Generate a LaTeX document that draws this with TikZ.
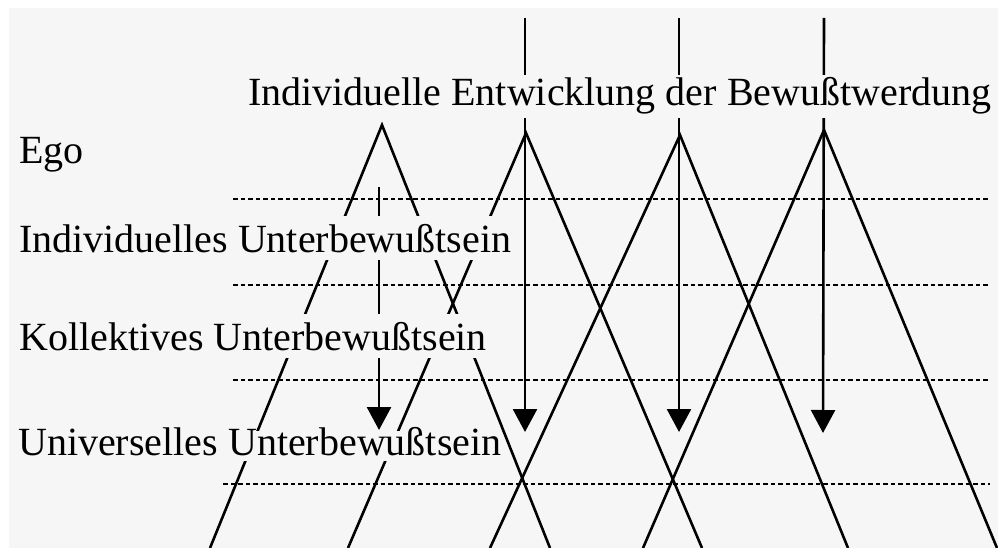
\documentclass[tikz,border=0pt]{standalone}
\usepackage{fontspec}
\setmainfont{Liberation Serif}
\usetikzlibrary{arrows.meta}
\definecolor{paper}{RGB}{246,246,246}

\begin{document}
\begin{tikzpicture}[
    x=1pt, y=-1pt,
    layer/.style={
      anchor=base west,
      fill=paper,
      inner xsep=1pt,
      inner ysep=8pt,
      font=\fontsize{40}{44}\selectfont
    },
    level/.style={
      draw=black,
      line width=2pt,
      dash pattern=on 4.5pt off 3pt
    },
    leg/.style={
      draw=black,
      line width=2.6pt
    },
    descent/.style={
      -{Triangle[length=23pt,width=24pt]},
      draw=black,
      line width=2.6pt
    }
  ]
    \useasboundingbox (0,0) rectangle (998,548);
    \fill[paper] (9,8) rectangle (998,548);

    % apexes and feet of the cones
    \coordinate (a1) at (382,125);
    \coordinate (a2) at (526,133);
    \coordinate (a3) at (680,135);
    \coordinate (a4) at (824,130);
    \coordinate (l1) at (210,548);
    \coordinate (r1) at (550,548);
    \coordinate (l2) at (348,548);
    \coordinate (r2) at (702,548);
    \coordinate (l3) at (490,548);
    \coordinate (r3) at (848,548);
    \coordinate (l4) at (643,548);
    \coordinate (r4) at (997,548);

    % levels
    \draw[level] (233,199) -- (990,199);
    \draw[level] (233,285) -- (990,285);
    \draw[level] (233,380) -- (990,380);
    \draw[level] (223,484) -- (990,484);

    \foreach \i in {1,...,4}
      \draw[leg] (l\i) -- (a\i) -- (r\i);

    % descending arrows
    \coordinate (s1) at (379,187);
    \coordinate (s2) at (525,18);
    \coordinate (s3) at (679,18);
    \coordinate (s4) at (824,18);
    \coordinate (e1) at (379,430);
    \coordinate (e2) at (525,432);
    \coordinate (e3) at (679,432);
    \coordinate (e4) at (823,433);
    \foreach \i in {1,...,4}
      \draw[descent] (s\i) -- (e\i);

    \node[layer, inner ysep=3pt] (title) at (247,106) {Individuelle Entwicklung der Bewußtwerdung};
    \node[layer] (ego) at (18,164) {Ego};
    \node[layer] (indiv) at (18,252) {Individuelles Unterbewußtsein};
    \node[layer] (koll) at (18,350) {Kollektives Unterbewußtsein};
    \node[layer, inner xsep=0pt, inner ysep=0pt, text height=24pt, text depth=6pt] (univ) at (18,455) {Universelles Unterbewußtsein};
  \end{tikzpicture}
\end{document}
